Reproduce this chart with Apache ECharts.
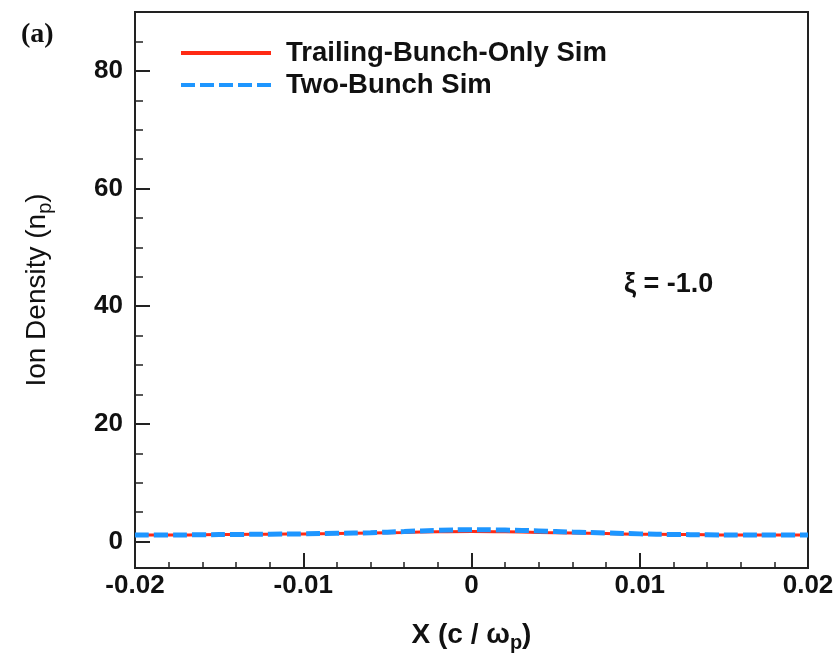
<!DOCTYPE html>
<html>
<head>
<meta charset="utf-8">
<script src="https://cdn.jsdelivr.net/npm/echarts@6/dist/echarts.min.js"></script>
<style>
  html, body { margin: 0; padding: 0; background: #fff; }
  #chart { width: 837px; height: 666px; }
</style>
</head>
<body>
<div id="chart"></div>
<script>
// Transverse position (c / omega_p)
const xPos = [-0.02, -0.018, -0.016, -0.014, -0.012, -0.01, -0.008, -0.006, -0.004, -0.002,
              0, 0.002, 0.004, 0.006, 0.008, 0.01, 0.012, 0.014, 0.016, 0.018, 0.02];
// Ion density (n_p), trailing bunch only
const trailingOnly = [1.1, 1.1, 1.15, 1.2, 1.25, 1.3, 1.35, 1.45, 1.55, 1.65,
                      1.7, 1.65, 1.55, 1.45, 1.35, 1.25, 1.2, 1.15, 1.1, 1.1, 1.1];
// Ion density (n_p), drive + trailing bunch
const twoBunch = [1.1, 1.1, 1.15, 1.2, 1.25, 1.3, 1.4, 1.5, 1.7, 1.9,
                  2.0, 1.95, 1.8, 1.6, 1.45, 1.3, 1.2, 1.15, 1.1, 1.1, 1.1];
// Axis ticks
const yMajorTicks = [0, 20, 40, 60, 80];
const yMinorTicks = [5, 10, 15, 25, 30, 35, 45, 50, 55, 65, 70, 75, 85];
const seriesNames = ['Trailing-Bunch-Only Sim', 'Two-Bunch Sim'];

const FONT = 'Liberation Sans, Arial, Helvetica, sans-serif';
const pair = (xs, ys) => xs.map((x, i) => [x, ys[i]]);

const chart = echarts.init(document.getElementById('chart'), null, { renderer: 'canvas' });
chart.setOption({
  animation: false,
  backgroundColor: '#fff',
  title: {
    text: '(a)',
    left: 16, top: 16,
    textStyle: { fontFamily: 'Liberation Serif, DejaVu Serif, serif', fontWeight: 'bold', fontSize: 28, color: '#111' }
  },
  grid: {
    left: 135, right: 29, top: 12, bottom: 98,
    show: true, borderColor: '#222', borderWidth: 2, backgroundColor: 'transparent'
  },
  legend: {
    orient: 'vertical',
    left: 174, top: 34,
    itemWidth: 90, itemHeight: 14, itemGap: 4,
    data: seriesNames,
    itemStyle: { opacity: 0 },
    lineStyle: { width: 4 },
    textStyle: { fontFamily: FONT, fontWeight: 'bold', fontSize: 27.5, color: '#111', padding: [0, 0, 0, 10], lineHeight: 28 }
  },
  xAxis: {
    type: 'value',
    min: -0.02, max: 0.02, interval: 0.01,
    name: 'X (c / ω{s|p})',
    nameLocation: 'middle', nameGap: 50,
    nameTextStyle: {
      fontFamily: FONT, fontWeight: 'bold', fontSize: 28, color: '#111',
      rich: { s: { fontFamily: FONT, fontWeight: 'bold', fontSize: 20, color: '#111', padding: [15, 0, 0, 0] } }
    },
    axisLine: { onZero: false, lineStyle: { color: '#222', width: 2 } },
    axisTick: { inside: true, length: 15, lineStyle: { color: '#222', width: 2 } },
    minorTick: { show: true, splitNumber: 5, length: 6, lineStyle: { color: '#222', width: 1.5 } },
    splitLine: { show: false },
    axisLabel: {
      margin: 5, fontFamily: FONT, fontWeight: 'bold', fontSize: 26, color: '#111',
      formatter: v => (Math.abs(v) < 1e-9 ? '0' : v.toFixed(2))
    }
  },
  yAxis: [{
    type: 'value',
    min: -4.5, max: 90,
    name: 'Ion Density (n{s|p})',
    nameLocation: 'middle', nameGap: 80, nameRotate: 90,
    nameTextStyle: {
      fontFamily: FONT, fontSize: 28, color: '#111',
      rich: { s: { fontFamily: FONT, fontSize: 20, color: '#111', padding: [15, 0, 0, 0] } }
    },
    axisLine: { onZero: false, lineStyle: { color: '#222', width: 2 } },
    axisTick: { inside: true, length: 15, customValues: yMajorTicks, lineStyle: { color: '#222', width: 2 } },
    splitLine: { show: false },
    axisLabel: {
      customValues: yMajorTicks, margin: 12,
      fontFamily: FONT, fontWeight: 'bold', fontSize: 26, color: '#111'
    }
  }, {
    type: 'value',
    min: -4.5, max: 90,
    position: 'left',
    axisLine: { show: false, onZero: false },
    axisTick: { show: true, inside: true, length: 8, customValues: yMinorTicks, lineStyle: { color: '#222', width: 1.5 } },
    axisLabel: { show: false },
    splitLine: { show: false }
  }],
  graphic: [{
    type: 'text',
    left: 624, top: 271,
    style: { text: 'ξ = -1.0', fontFamily: FONT, fontWeight: 'bold', fontSize: 27, fill: '#111' }
  }],
  series: [{
    name: seriesNames[0],
    type: 'line',
    data: pair(xPos, trailingOnly),
    smooth: true, symbol: 'none',
    lineStyle: { color: '#ff2a14', width: 3 },
    itemStyle: { color: '#ff2a14' },
    z: 2
  }, {
    name: seriesNames[1],
    type: 'line',
    data: pair(xPos, twoBunch),
    smooth: true, symbol: 'none',
    lineStyle: { color: '#1e96ff', width: 5, type: [14, 5] },
    itemStyle: { color: '#1e96ff' },
    z: 3
  }]
});
</script>
</body>
</html>
